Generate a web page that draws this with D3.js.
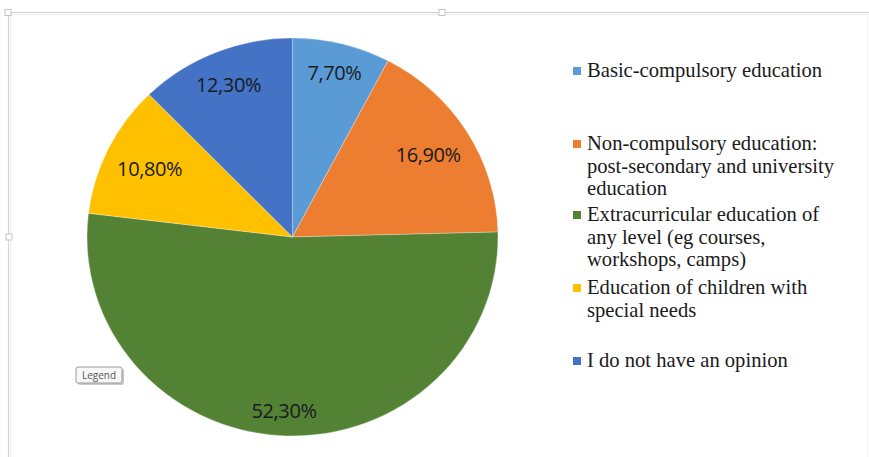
<!DOCTYPE html>
<html>
<head>
    <meta charset="utf-8">
    <script src="https://d3js.org/d3.v7.min.js"></script>
    <style>
        body { margin: 0; background: #fff; }
    </style>
</head>
<body>
    <script>
        // data
        var categories = [
            "Basic-compulsory education",
            "Non-compulsory education: post-secondary and university education",
            "Extracurricular education of any level (eg courses, workshops, camps)",
            "Education of children with special needs",
            "I do not have an opinion"
        ];
        var legendLines = [
            ["Basic-compulsory education"],
            ["Non-compulsory education:", "post-secondary and university", "education"],
            ["Extracurricular education of", "any level (eg courses,", "workshops, camps)"],
            ["Education of children with", "special needs"],
            ["I do not have an opinion"]
        ];
        var values = [7.7, 16.9, 52.3, 10.8, 12.3];
        var valueLabels = ["7,70%", "16,90%", "52,30%", "10,80%", "12,30%"];
        var colors = ["#5b9bd5", "#ed7d31", "#548235", "#ffc000", "#4472c4"];
    </script>
    <script>
        var width = 869, height = 457;
        var svg = d3.select("body").append("svg")
            .attr("width", width).attr("height", height);

        // frame of the chart object (selection border with handles)
        var frame = svg.append("g").attr("class", "frame");
        frame.append("line").attr("x1", 8).attr("x2", width).attr("y1", 12.5).attr("y2", 12.5)
            .attr("stroke", "#cfcfcf").attr("stroke-width", 1.2);
        frame.append("line").attr("x1", 10).attr("x2", width).attr("y1", 14.5).attr("y2", 14.5)
            .attr("stroke", "#ececec").attr("stroke-width", 1);
        frame.append("line").attr("x1", 8.5).attr("x2", 8.5).attr("y1", 12).attr("y2", height)
            .attr("stroke", "#d4d4d4").attr("stroke-width", 1.2);
        frame.append("line").attr("x1", 10.5).attr("x2", 10.5).attr("y1", 14).attr("y2", height)
            .attr("stroke", "#efefef").attr("stroke-width", 1);
        frame.append("line").attr("x1", 867.5).attr("x2", 867.5).attr("y1", 14).attr("y2", height)
            .attr("stroke", "#f3f3f3").attr("stroke-width", 1);
        [[8, 12.5], [442, 12.5], [9, 237]].forEach(function (p) {
            frame.append("rect")
                .attr("x", p[0] - 3).attr("y", p[1] - 3)
                .attr("width", 6).attr("height", 6)
                .attr("fill", "#fff").attr("stroke", "#c4c4c4").attr("stroke-width", 1);
        });

        // pie (slightly wider than tall, like the picture)
        var cx = 292.5, cy = 237, rx = 205.5, ry = 199;
        var pie = d3.pie().sort(null).value(function (d) { return d; });
        var arcs = pie(values);
        var arc = d3.arc().innerRadius(0).outerRadius(rx);

        var g = svg.append("g").attr("transform", "translate(" + cx + "," + cy + ")");
        g.append("g")
            .attr("transform", "scale(1," + (ry / rx) + ")")
            .selectAll("path")
            .data(arcs)
            .enter().append("path")
            .attr("d", arc)
            .attr("fill", function (d, i) { return colors[i]; })
            .attr("stroke", "#fff")
            .attr("stroke-width", 0.3);

        // labels placed "inside end": box pushed out until it nearly touches the rim
        var pad = 11;
        var labels = g.selectAll("text.value")
            .data(arcs)
            .enter().append("text")
            .attr("class", "value")
            .attr("text-anchor", "middle")
            .attr("dy", "0.35em")
            .style("font-family", "'Open Sans', sans-serif")
            .style("font-size", "20px")
            .style("letter-spacing", "-0.4px")
            .attr("fill", "#161b1e")
            .text(function (d, i) { return valueLabels[i]; });

        labels.each(function (d) {
            var bb = this.getBBox();
            var a = (d.startAngle + d.endAngle) / 2;
            var s = Math.sin(a), c = Math.cos(a);
            var half = Math.abs(s) * bb.width / 2 + Math.abs(c) * bb.height / 2;
            var r = rx - pad - half;
            d3.select(this).attr("x", s * r).attr("y", -c * r * ry / rx);
        });

        // legend
        var legendX = 573, lineH = 22.5;
        var legendTop = [77, 150, 221, 294, 367];
        var legend = svg.append("g").attr("class", "legend");
        legendLines.forEach(function (lines, i) {
            var item = legend.append("g");
            item.append("rect")
                .attr("x", legendX).attr("y", legendTop[i] - 10)
                .attr("width", 8).attr("height", 8)
                .attr("fill", colors[i]);
            item.append("text")
                .attr("x", legendX + 14)
                .attr("y", legendTop[i])
                .style("font-family", "'Liberation Serif', 'Times New Roman', serif")
                .style("font-size", "20.6px")
                .attr("fill", "#1a1a1a")
                .selectAll("tspan")
                .data(lines)
                .enter().append("tspan")
                .attr("x", legendX + 14)
                .attr("dy", function (d, j) { return j === 0 ? 0 : lineH; })
                .text(function (d) { return d; });
        });

        // "Legend" tooltip left over from the editor
        var tip = svg.append("g").attr("transform", "translate(76,367)");
        tip.append("rect").attr("x", 2).attr("y", 2).attr("width", 46).attr("height", 16)
            .attr("rx", 2).attr("fill", "#c8c8c8");
        tip.append("rect").attr("width", 46).attr("height", 16)
            .attr("rx", 2).attr("fill", "#f7f7f7").attr("stroke", "#9a9a9a");
        tip.append("text").attr("x", 23).attr("y", 12)
            .attr("text-anchor", "middle")
            .style("font-family", "'Open Sans', sans-serif")
            .style("font-size", "10px")
            .attr("fill", "#555")
            .text("Legend");
    </script>
</body>
</html>
